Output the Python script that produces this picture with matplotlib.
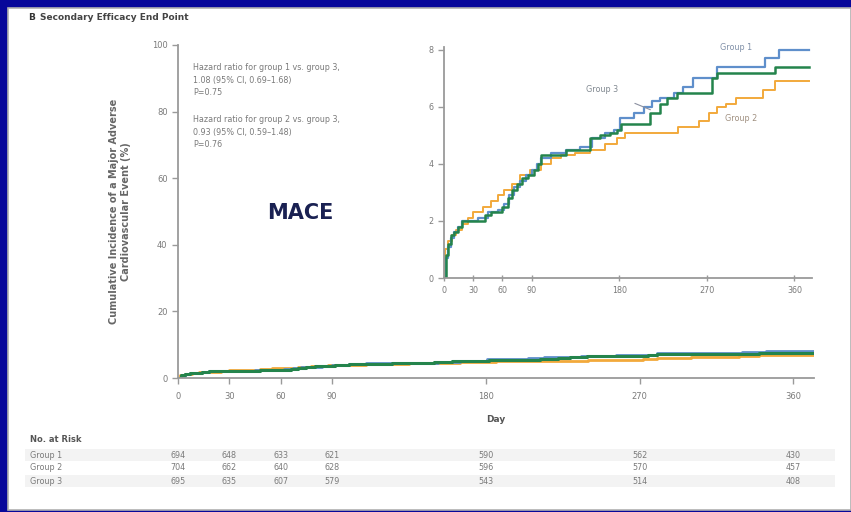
import matplotlib
matplotlib.use("Agg")
import matplotlib.pyplot as plt
from matplotlib.patches import Rectangle
from matplotlib.transforms import blended_transform_factory

# Kaplan-Meier style step data (day, cumulative incidence %)
g1_days = [0, 2, 4, 7, 10, 14, 18, 35, 45, 55, 62, 67, 72, 78, 84, 90, 96, 100, 110, 125,
           140, 152, 165, 175, 181, 195, 205, 214, 222, 236, 246, 256, 280, 330, 344, 375]
g1_val = [0, 0.7, 1.1, 1.4, 1.6, 1.8, 2.0, 2.1, 2.3, 2.4, 2.6, 2.9, 3.2, 3.4, 3.6, 3.8, 4.0, 4.2,
          4.4, 4.5, 4.6, 4.9, 5.1, 5.2, 5.6, 5.8, 6.0, 6.2, 6.3, 6.5, 6.7, 7.0, 7.4, 7.7, 8.0, 8.0]

g2_days = [0, 1, 4, 8, 12, 18, 25, 30, 40, 48, 55, 62, 70, 78, 88, 100, 110, 120, 135, 150,
           165, 178, 186, 240, 262, 272, 280, 290, 300, 328, 340, 375]
g2_val = [0, 1.0, 1.3, 1.5, 1.7, 1.9, 2.1, 2.3, 2.5, 2.7, 2.9, 3.1, 3.3, 3.6, 3.8, 4.0, 4.2,
          4.3, 4.4, 4.5, 4.7, 4.9, 5.1, 5.3, 5.5, 5.8, 6.0, 6.1, 6.3, 6.6, 6.9, 6.9]

g3_days = [0, 2, 4, 7, 10, 14, 18, 42, 48, 60, 66, 70, 75, 80, 86, 92, 97, 100, 125, 150,
           160, 170, 178, 182, 212, 222, 229, 239, 275, 280, 340, 375]
g3_val = [0, 0.8, 1.2, 1.5, 1.6, 1.8, 2.0, 2.2, 2.3, 2.5, 2.8, 3.1, 3.3, 3.5, 3.6, 3.8, 4.0,
          4.3, 4.5, 4.9, 5.0, 5.1, 5.2, 5.4, 5.8, 6.1, 6.3, 6.5, 7.0, 7.2, 7.4, 7.4]

day_ticks = [0, 30, 60, 90, 180, 270, 360]
groups = ["Group 1", "Group 2", "Group 3"]
at_risk = {
    "Group 1": [694, 648, 633, 621, 590, 562, 430],
    "Group 2": [704, 662, 640, 628, 596, 570, 457],
    "Group 3": [695, 635, 607, 579, 543, 514, 408],
}

c_blue = "#5f8fcb"
c_orange = "#f2a93b"
c_green = "#24844c"
grey = "#7a7a7a"
spine_c = "#9a9a9a"

fig = plt.figure(figsize=(8.51, 5.12), dpi=100)
fig.patch.set_facecolor("#07079a")
fig.patches.append(Rectangle((8 / 851, 1 - 510 / 512), 843 / 851, 502 / 512,
                             transform=fig.transFigure, facecolor="white",
                             edgecolor="#b0b0b0", lw=1.2, zorder=-10))


def style(ax, fs=6):
    for s in ["top", "right"]:
        ax.spines[s].set_visible(False)
    for s in ["left", "bottom"]:
        ax.spines[s].set_color(spine_c)
        ax.spines[s].set_linewidth(1.3)
    ax.tick_params(colors=spine_c, labelcolor=grey, labelsize=fs, length=4, width=1)
    ax.set_facecolor("none")
    ax.set_zorder(2)


# main axes
ax = fig.add_axes([178 / 851, 1 - 378 / 512, 636 / 851, 333 / 512])
style(ax)
ax.step(g2_days, g2_val, where="post", color=c_orange, lw=2)
ax.step(g1_days, g1_val, where="post", color=c_blue, lw=2)
ax.step(g3_days, g3_val, where="post", color=c_green, lw=2.2)
ax.set_xlim(0, 372)
ax.set_ylim(0, 100)
ax.set_xticks(day_ticks)
ax.set_yticks([0, 20, 40, 60, 80, 100])
ax.set_xlabel("Day", fontsize=6.5, color="#555555", fontweight="bold", labelpad=10)
ax.set_ylabel("Cumulative Incidence of a Major Adverse\nCardiovascular Event (%)",
              fontsize=7, color="#666666", fontweight="bold", labelpad=15)
ax.tick_params(axis="x", pad=6)

ax.text(193 / 851, 1 - 80 / 512,
        "Hazard ratio for group 1 vs. group 3,\n1.08 (95% CI, 0.69\u20131.68)\nP=0.75",
        transform=fig.transFigure, fontsize=5.8, color=grey, va="center", linespacing=1.45)
ax.text(193 / 851, 1 - 132 / 512,
        "Hazard ratio for group 2 vs. group 3,\n0.93 (95% CI, 0.59\u20131.48)\nP=0.76",
        transform=fig.transFigure, fontsize=5.8, color=grey, va="center", linespacing=1.45)

fig.text(300 / 851, 1 - 213 / 512, "MACE", fontsize=15, fontweight="bold",
         color="#1a2152", ha="center", va="center")
fig.text(28 / 851, 1 - 18 / 512, "B", fontsize=6.5, fontweight="bold", color="#333333",
         va="center")
fig.text(40 / 851, 1 - 18 / 512, "Secondary Efficacy End Point", fontsize=6.5,
         fontweight="bold", color="#444444", va="center")

# inset
ins = fig.add_axes([444 / 851, 1 - 278 / 512, 368 / 851, 231 / 512])
style(ins, fs=5.8)
ins.set_zorder(3)
ins.step(g2_days, g2_val, where="post", color=c_orange, lw=1.4)
ins.step(g1_days, g1_val, where="post", color=c_blue, lw=1.6)
ins.step(g3_days, g3_val, where="post", color=c_green, lw=1.8)
ins.set_xlim(0, 378)
ins.set_ylim(0, 8.1)
ins.set_xticks(day_ticks)
ins.set_yticks([0, 2, 4, 6, 8])
ins.tick_params(axis="x", direction="inout", length=5)
ins.text(300, 8.1, "Group 1", fontsize=5.8, color="#8090a8", ha="center", va="center")
ins.text(305, 5.6, "Group 2", fontsize=5.8, color="#a09080", ha="center", va="center")
ins.annotate("Group 3", xy=(212, 5.9), xytext=(162, 6.6), fontsize=5.8, color="#808890",
             ha="center", va="center",
             arrowprops=dict(arrowstyle="-", color="#8a8fa0", lw=0.8,
                             shrinkA=12, shrinkB=0))

# number at risk table
tr = blended_transform_factory(ax.transData, fig.transFigure)
fig.text(30 / 851, 1 - 440 / 512, "No. at Risk", fontsize=6, fontweight="bold",
         color="#555555", va="center")
row_y = [455, 468, 481]
for i, g in enumerate(groups):
    y = 1 - row_y[i] / 512
    if i != 1:
        fig.patches.append(Rectangle((25 / 851, y - 6 / 512), 810 / 851, 12 / 512,
                                     transform=fig.transFigure, facecolor="#f3f3f3",
                                     edgecolor="none", zorder=-5))
    fig.text(30 / 851, y, g, fontsize=5.8, color=grey, va="center")
    for d, n in zip(day_ticks, at_risk[g]):
        ax.text(d, y, str(n), transform=tr, fontsize=5.8, color=grey,
                ha="center", va="center", clip_on=False)

fig.savefig("out.png", dpi=100, facecolor=fig.get_facecolor())
